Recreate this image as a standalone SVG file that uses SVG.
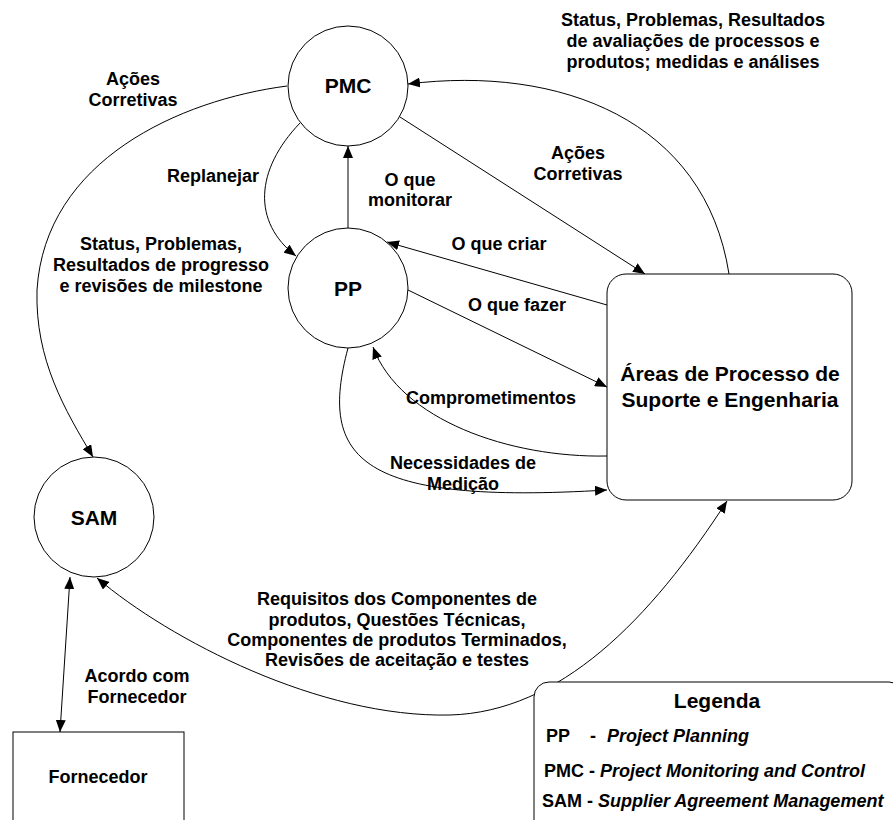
<svg xmlns="http://www.w3.org/2000/svg" width="893" height="820" viewBox="0 0 893 820">
  <style>
    .shape { fill: #ffffff; stroke: #000000; stroke-width: 1; }
    .edge { fill: none; stroke: #000000; stroke-width: 1; }
    text { font-family: "Liberation Sans", Arial, sans-serif; font-weight: bold; fill: #000000; }
    .lbl { font-size: 18px; text-anchor: middle; }
    .node { font-size: 21px; text-anchor: middle; }
    .leg { font-size: 18px; }
    .it { font-style: italic; }
  </style>
  <defs>
    <marker id="arrow" viewBox="0 0 12 10" refX="12" refY="5" markerWidth="12" markerHeight="10" markerUnits="userSpaceOnUse" orient="auto-start-reverse">
      <path d="M0,0 L12,5 L0,10 Z" fill="#000000"/>
    </marker>
  </defs>

  <rect width="893" height="820" fill="#ffffff"/>

  <!-- connectors -->
  <g id="connectors">
    <!-- PMC -> Areas: Ações Corretivas -->
    <path class="edge" d="M400,117 L645,274" marker-end="url(#arrow)"/>
    <!-- Areas -> PMC: status arc -->
    <path class="edge" d="M729,274 C705,120 560,65 408,84" marker-end="url(#arrow)"/>
    <!-- PP -> PMC: O que monitorar -->
    <path class="edge" d="M348,228 L348,146" marker-end="url(#arrow)"/>
    <!-- PMC -> PP: Replanejar -->
    <path class="edge" d="M300,123 C255,170 252,222 296,256" marker-end="url(#arrow)"/>
    <!-- PMC -> SAM: Ações Corretivas -->
    <path class="edge" d="M287,86 C180,100 45,160 37,290 C35,360 65,410 93,457" marker-end="url(#arrow)"/>
    <!-- Areas -> PP: O que criar -->
    <path class="edge" d="M607,305 L387,242" marker-end="url(#arrow)"/>
    <!-- PP -> Areas: O que fazer -->
    <path class="edge" d="M408,290 L607,387" marker-end="url(#arrow)"/>
    <!-- Areas -> PP: Comprometimentos -->
    <path class="edge" d="M607,456 C510,458 400,420 373,347" marker-end="url(#arrow)"/>
    <!-- PP -> Areas: Necessidades de Medição -->
    <path class="edge" d="M348,348 C318,460 360,505 607,490" marker-end="url(#arrow)"/>
    <!-- SAM <-> Fornecedor -->
    <path class="edge" d="M70,577 L60,732" marker-start="url(#arrow)" marker-end="url(#arrow)"/>
    <!-- SAM <-> Areas -->
    <path class="edge" d="M97,578 C170,640 320,718 450,715 C560,712 650,620 727,501" marker-start="url(#arrow)" marker-end="url(#arrow)"/>
  </g>

  <!-- nodes -->
  <g id="pmc">
    <circle class="shape" cx="348" cy="86" r="60"/>
    <text class="node" x="348" y="93">PMC</text>
  </g>
  <g id="pp">
    <circle class="shape" cx="348" cy="288" r="60"/>
    <text class="node" x="348" y="296">PP</text>
  </g>
  <g id="sam">
    <circle class="shape" cx="94" cy="517" r="60"/>
    <text class="node" x="94" y="525">SAM</text>
  </g>
  <g id="areas">
    <rect class="shape" x="607" y="274" width="245" height="226" rx="19" ry="19"/>
    <text class="node" x="730" y="381">Áreas de Processo de</text>
    <text class="node" x="730" y="407">Suporte e Engenharia</text>
  </g>
  <g id="fornecedor">
    <rect class="shape" x="13" y="732" width="171" height="100"/>
    <text class="lbl" x="98" y="783">Fornecedor</text>
  </g>

  <!-- edge labels -->
  <g id="labels">
    <text class="lbl" x="133" y="85">Ações</text>
    <text class="lbl" x="133" y="106">Corretivas</text>
    <text class="lbl" x="213" y="182">Replanejar</text>
    <text class="lbl" x="410" y="186">O que</text>
    <text class="lbl" x="410" y="206">monitorar</text>
    <text class="lbl" x="161" y="250">Status, Problemas,</text>
    <text class="lbl" x="161" y="271">Resultados de progresso</text>
    <text class="lbl" x="161" y="292">e revisões de milestone</text>
    <text class="lbl" x="693" y="26">Status, Problemas, Resultados</text>
    <text class="lbl" x="693" y="47">de avaliações de processos e</text>
    <text class="lbl" x="693" y="68">produtos; medidas e análises</text>
    <text class="lbl" x="578" y="159">Ações</text>
    <text class="lbl" x="578" y="180">Corretivas</text>
    <text class="lbl" x="499" y="250">O que criar</text>
    <text class="lbl" x="517" y="311">O que fazer</text>
    <text class="lbl" x="491" y="404">Comprometimentos</text>
    <text class="lbl" x="463" y="469">Necessidades de</text>
    <text class="lbl" x="463" y="490">Medição</text>
    <text class="lbl" x="397" y="605">Requisitos dos Componentes de</text>
    <text class="lbl" x="397" y="626">produtos, Questões Técnicas,</text>
    <text class="lbl" x="397" y="646">Componentes de produtos Terminados,</text>
    <text class="lbl" x="397" y="666">Revisões de aceitação e testes</text>
    <text class="lbl" x="137" y="682">Acordo com</text>
    <text class="lbl" x="137" y="703">Fornecedor</text>
  </g>

  <!-- legend -->
  <g id="legenda">
    <rect class="shape" x="534" y="682" width="370" height="160" rx="15" ry="15"/>
    <text class="node" x="717" y="708">Legenda</text>
    <text class="leg" x="546" y="742">PP</text>
    <text class="leg" x="590" y="742">-</text>
    <text class="leg it" x="607" y="742">Project Planning</text>
    <text class="leg" x="544" y="777">PMC - <tspan class="it">Project Monitoring and Control</tspan></text>
    <text class="leg" x="542" y="807">SAM - <tspan class="it">Supplier Agreement Management</tspan></text>
  </g>
</svg>
